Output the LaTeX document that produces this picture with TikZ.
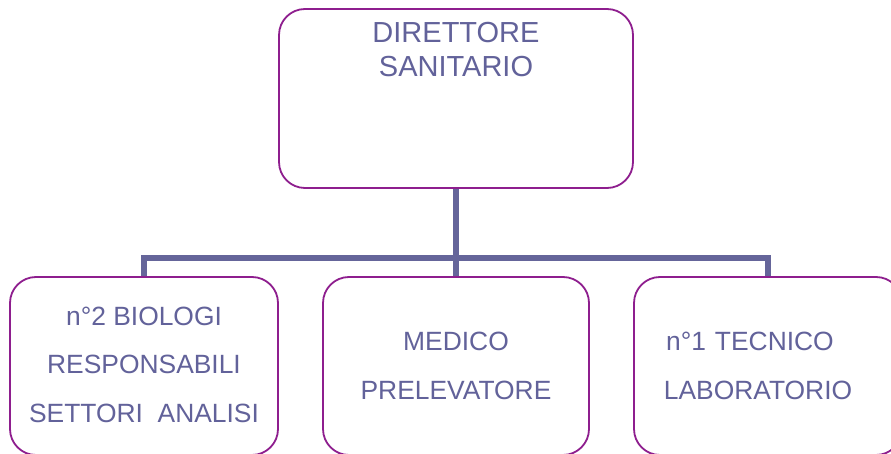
\documentclass[tikz,border=0pt]{standalone}
\usepackage{fontspec}
\setmainfont{Liberation Sans}
\usepackage{tikz}
\usetikzlibrary{positioning}

\definecolor{rimcol}{HTML}{8E1E8E}
\definecolor{inkcol}{HTML}{62629A}
\definecolor{linkcol}{HTML}{65659A}

\tikzset{
  box/.style={draw=rimcol, line width=1.8pt, rounded corners=26pt, fill=white},
  lowbox/.style={box, minimum width=268pt, minimum height=178pt, align=center,
    text=inkcol, inner sep=0pt, font=\fontsize{26.4}{48.5}\selectfont},
  link/.style={draw=linkcol, line width=6pt}
}

\begin{document}
\begin{tikzpicture}[x=1pt, y=-1pt]
				\useasboundingbox (0,0) rectangle (891,454);
				\begin{scope}
				\clip (0,0) rectangle (891,454);
				% riquadro superiore
				\node[box, minimum width=354pt, minimum height=179pt] (dir) at (456,98.5) {};
				\node[anchor=north, inner sep=0pt, align=center, text=inkcol,
				font=\fontsize{29}{34}\selectfont] (dirtext) at ([yshift=-14pt]dir.north) {DIRETTORE\\SANITARIO};
				% riquadri inferiori
				\node[lowbox] (bio) at (144,366) {\raisebox{3pt}{n°2 BIOLOGI}\\\raisebox{3pt}{RESPONSABILI}\\\raisebox{3pt}{SETTORI~ ANALISI}};
				\node[lowbox, minimum width=266pt] (med) at (456,366) {MEDICO\\PRELEVATORE};
				\node[lowbox, text width=268pt] (tec) at (768,366) {\hspace*{-36pt}n°1 TECNICO\\\hspace*{-20pt}LABORATORIO};
				% collegamenti
				\coordinate (split) at (dir.south |- 0,258);
				\draw[link] (dir.south) -- (split);
				\draw[link] (bio.north) |- (split) -| (tec.north);
				\draw[link] (split) -- (med.north);
				\end{scope}
			\end{tikzpicture}
\end{document}
